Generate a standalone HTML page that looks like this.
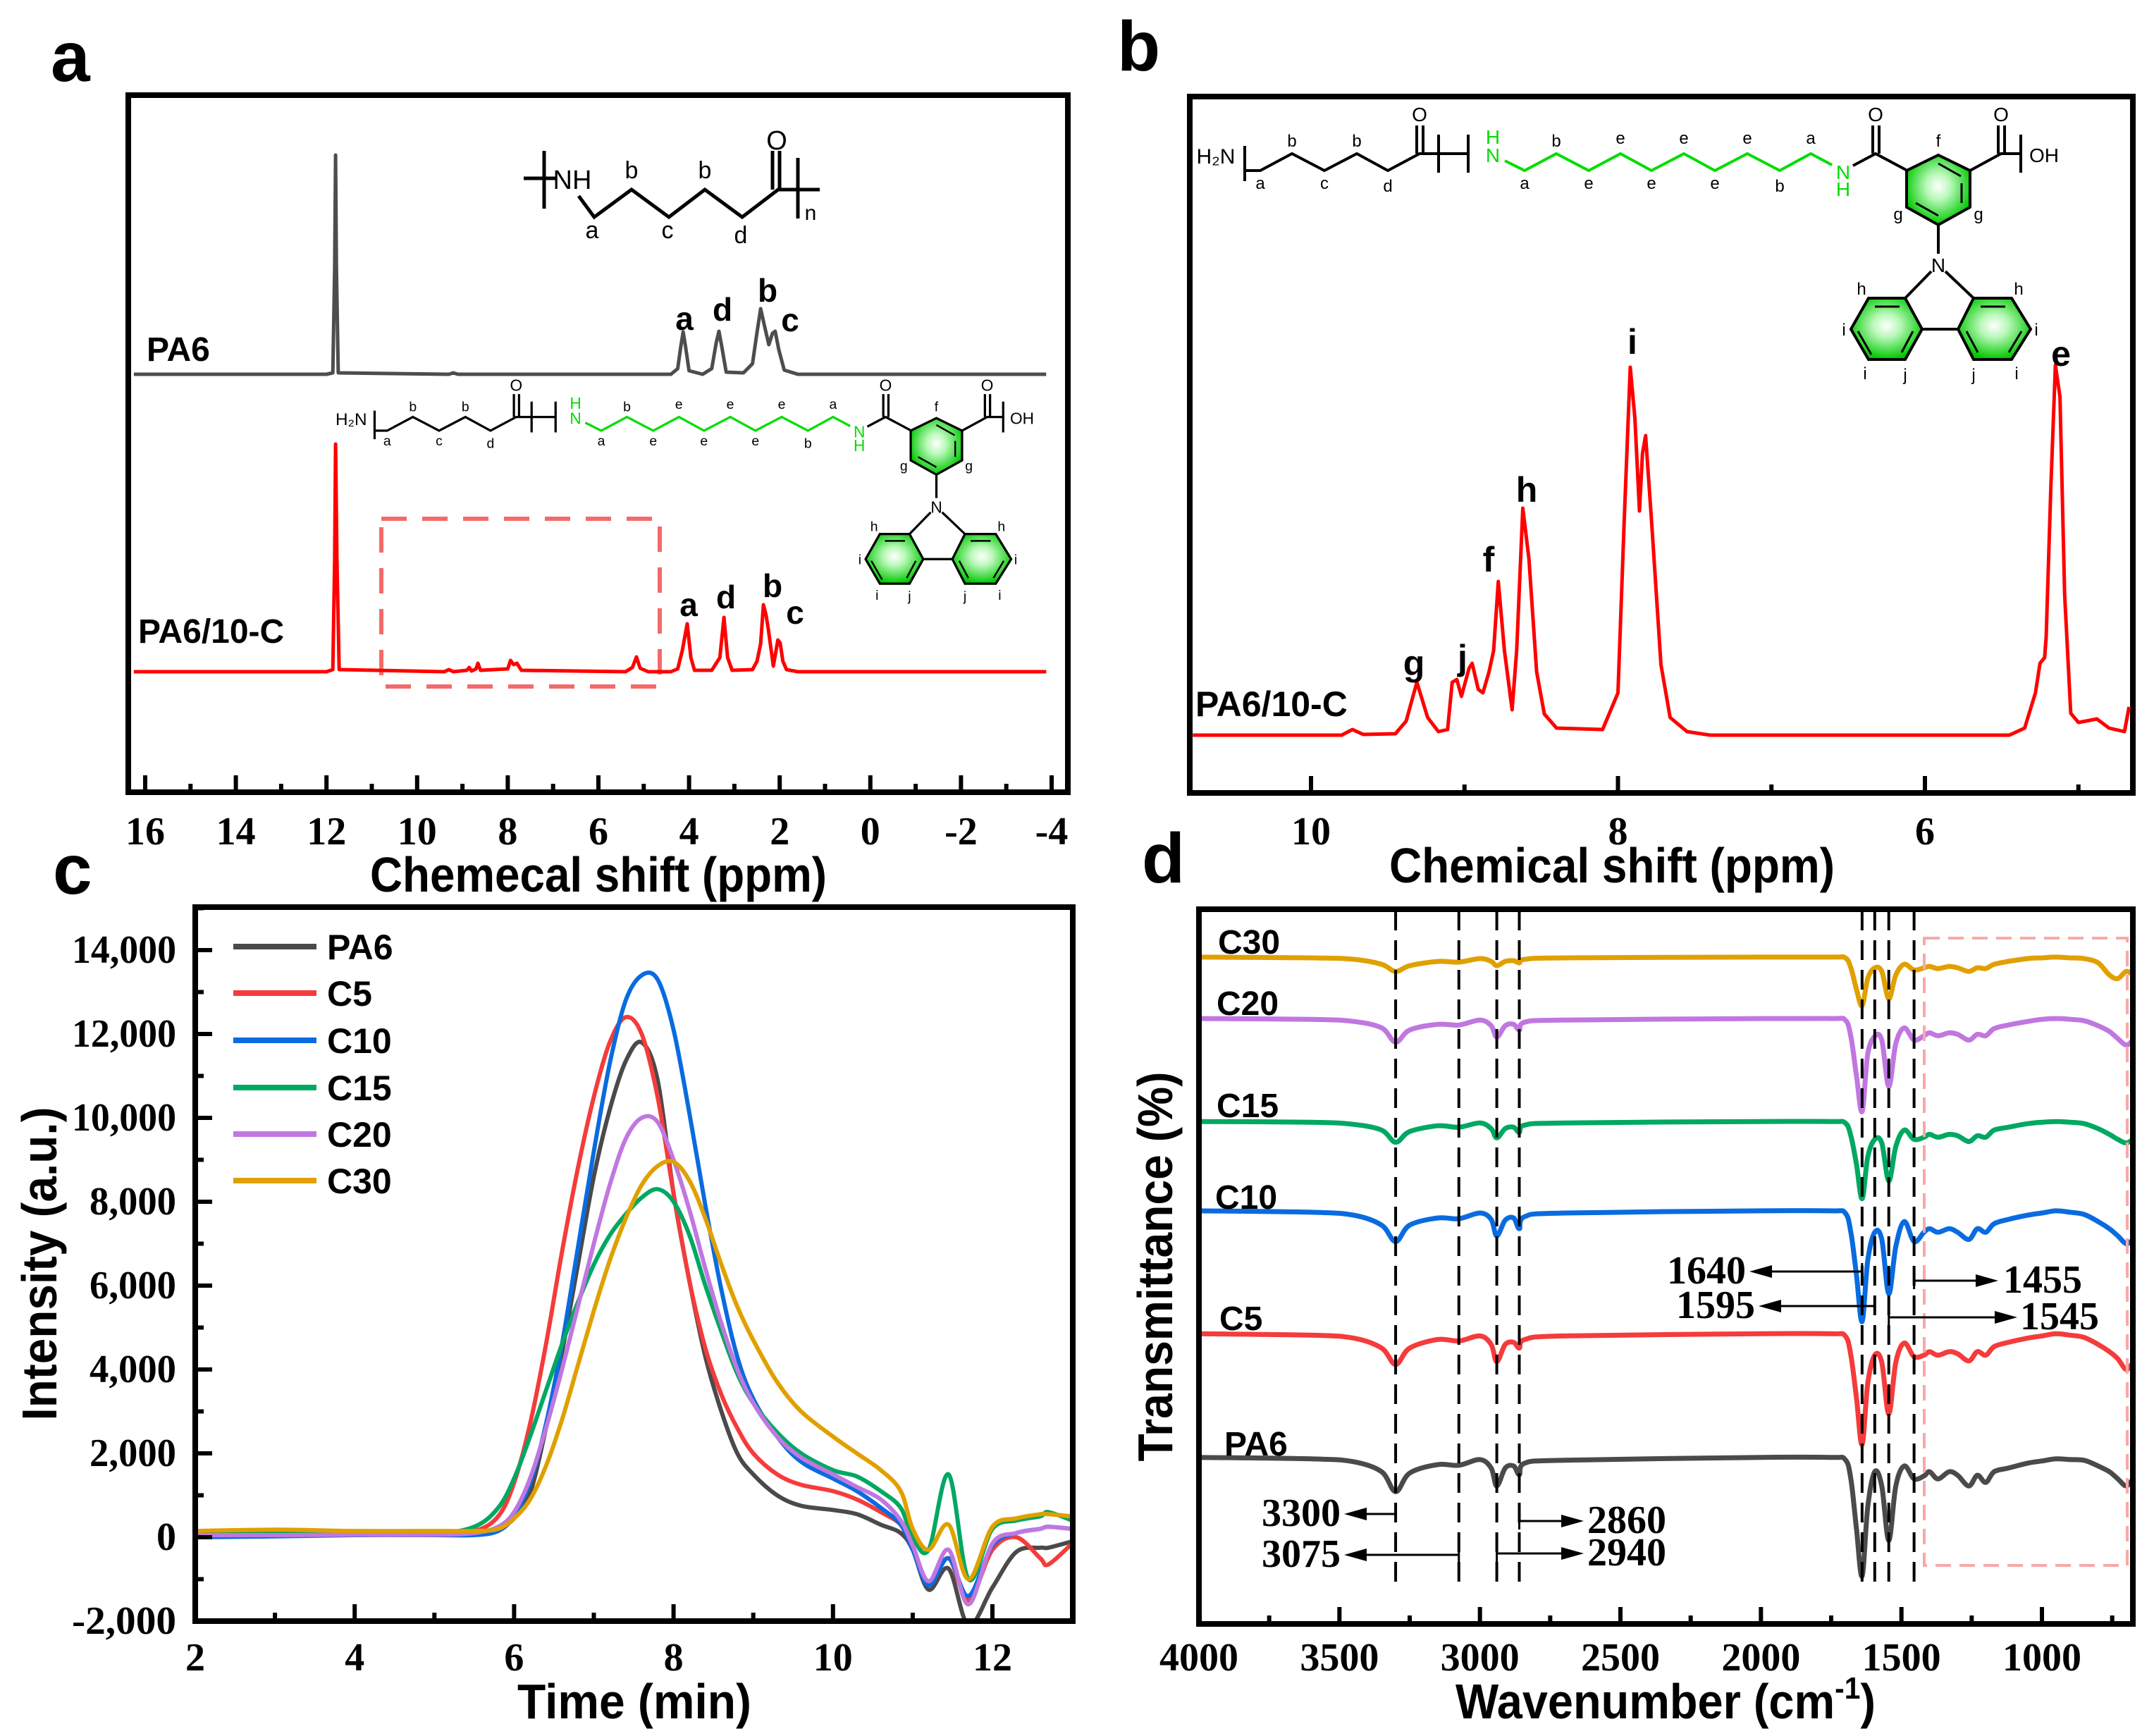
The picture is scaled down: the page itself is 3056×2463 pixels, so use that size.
<!DOCTYPE html>
<html><head><meta charset="utf-8"><style>
html,body{margin:0;padding:0;background:#fff}
svg{display:block}
text{font-family:"Liberation Sans",sans-serif}
.tick{font-family:"Liberation Serif",serif;font-weight:bold;font-size:56px}
.ttl{font-weight:bold;font-size:70px}
.lbl{font-weight:bold}
</style></head><body>
<svg id="fig" xmlns="http://www.w3.org/2000/svg" width="3056" height="2463" viewBox="0 0 3056 2463">
<defs>
<radialGradient id="ringg" cx="50%" cy="45%" r="55%"><stop offset="0" stop-color="#ffffff"/><stop offset="0.35" stop-color="#b8f8b8"/><stop offset="1" stop-color="#00c800"/></radialGradient>
<clipPath id="clipC"><rect x="277" y="1287" width="1245" height="1013"/></clipPath>
<clipPath id="clipB"><rect x="1688" y="135" width="1338" height="990"/></clipPath>
</defs>
<rect x="0" y="0" width="3056" height="2463" fill="#fff"/>
<text x="72" y="115" font-size="100" font-weight="bold">a</text>
<text x="1585" y="100" font-size="100" font-weight="bold">b</text>
<text x="75" y="1268" font-size="100" font-weight="bold">c</text>
<text x="1620" y="1252" font-size="100" font-weight="bold">d</text>
<text x="849" y="1265" class="ttl" text-anchor="middle" textLength="648" lengthAdjust="spacingAndGlyphs">Chemecal shift (ppm)</text>
<text x="2287" y="1252" class="ttl" text-anchor="middle" textLength="632" lengthAdjust="spacingAndGlyphs">Chemical shift (ppm)</text>
<text x="900" y="2438" class="ttl" text-anchor="middle" textLength="332" lengthAdjust="spacingAndGlyphs">Time (min)</text>
<text x="2363" y="2438" class="ttl" text-anchor="middle" textLength="596" lengthAdjust="spacingAndGlyphs">Wavenumber (cm<tspan dy="-28" font-size="44">-1</tspan><tspan dy="28">)</tspan></text>
<text transform="translate(80,1793) rotate(-90)" class="ttl" text-anchor="middle" textLength="445" lengthAdjust="spacingAndGlyphs">Intensity (a.u.)</text>
<text transform="translate(1663,1797) rotate(-90)" class="ttl" text-anchor="middle" textLength="553" lengthAdjust="spacingAndGlyphs">Transmittance (%)</text>
</svg>
<script>
const ppmA_PA6 = [16.25,12.0,11.86,11.82,11.8,11.78,11.74,9.3,9.2,9.1,4.4,4.25,4.18,4.13,4.08,4.0,3.7,3.5,3.4,3.34,3.28,3.18,2.8,2.6,2.5,2.42,2.34,2.24,2.16,2.1,2.02,1.9,1.6,-3.88];
const intA_PA6 = [0,0,2,150,311,150,2,0,2,0,0,8,40,60,40,5,0,8,45,61,40,3,2,15,60,93,70,42,58,61,35,6,0,0];
const ppmA_PA610C = [16.25,12.0,11.86,11.82,11.8,11.77,11.72,9.4,9.3,9.2,8.9,8.85,8.8,8.7,8.66,8.6,8.0,7.94,7.87,7.8,7.7,5.4,5.25,5.16,5.08,4.9,4.4,4.25,4.15,4.04,3.96,3.88,3.5,3.4,3.32,3.23,3.15,3.05,2.6,2.5,2.42,2.36,2.3,2.25,2.14,2.04,1.99,1.93,1.85,1.6,-3.88];
const intA_PA610C = [0,0,3,160,323,160,3,0,3,0,2,6,1,4,12,2,4,16,10,12,2,0,6,21,5,0,0,4,30,68,20,2,2,12,20,77,20,2,3,15,40,95,80,60,8,45,41,15,3,0,0];
const ppmB = [10.77,9.8,9.73,9.66,9.45,9.38,9.31,9.24,9.17,9.11,9.08,9.05,9.02,8.97,8.95,8.91,8.88,8.84,8.81,8.78,8.74,8.69,8.66,8.62,8.58,8.53,8.48,8.4,8.1,8.0,7.96,7.92,7.89,7.86,7.84,7.82,7.78,7.72,7.66,7.55,7.4,5.45,5.35,5.28,5.25,5.22,5.21,5.18,5.15,5.12,5.09,5.05,5.0,4.95,4.88,4.8,4.7,4.67];
const intB = [0,0,8,1,2,20,75,25,5,8,75,79,55,95,102,65,60,90,120,218,120,36,120,322,250,90,30,10,8,60,300,522,450,318,400,425,300,100,25,5,0,0,10,60,102,110,139,350,525,480,200,31,18,20,23,10,5,40];
const timeC = [2,3,4,5,5.5,5.8,6,6.2,6.4,6.6,6.8,7,7.2,7.4,7.6,7.8,8,8.2,8.4,8.6,8.8,9,9.3,9.6,10,10.3,10.6,10.85,11,11.2,11.45,11.7,12,12.3,12.6,12.7,13];
const gpcPA6 = [100,100,100,100,120,220,450,1050,2600,4400,6500,8600,10200,11350,11800,10900,8200,6100,4300,3000,2000,1500,1000,750,650,550,300,100,-300,-1250,-750,-2100,-1200,-350,-250,-250,-100];
const gpcC5 = [100,120,120,120,150,500,1300,2700,4600,6800,8800,10500,11800,12400,12000,10500,8200,6100,4500,3400,2600,2000,1500,1250,1100,900,600,300,-200,-1100,-500,-1500,-300,0,-500,-650,-150];
const gpcC10 = [0,20,50,50,50,150,500,1300,2700,4600,6900,9200,11300,12800,13400,13300,12100,10100,7900,5900,4300,3300,2400,1800,1400,1100,700,300,-300,-1150,-500,-1400,-200,100,200,250,200];
const gpcC15 = [100,100,100,100,250,700,1400,2400,3500,4600,5600,6500,7200,7700,8100,8300,8000,7200,6000,4900,3900,3200,2500,2000,1600,1450,1100,700,0,-300,1500,-1000,200,400,500,600,400];
const gpcC20 = [50,50,60,60,100,250,600,1400,2600,4000,5500,7000,8400,9500,10000,9900,9000,7800,6400,5100,4000,3200,2400,1900,1500,1200,900,400,-200,-1050,-300,-1600,-150,100,200,250,200];
const gpcC30 = [150,180,150,150,150,200,450,900,1700,2800,4100,5400,6600,7600,8400,8850,8950,8500,7600,6500,5500,4700,3700,3000,2400,2000,1600,1100,200,-300,300,-1000,250,450,550,550,500];
const yTicksC = [-2000,0,2000,4000,6000,8000,10000,12000,14000];
const yTickLabelsC = ["-2,000","0","2,000","4,000","6,000","8,000","10,000","12,000","14,000"];
const xTicksC = [2,4,6,8,10,12];
const waveD = [4000,3600,3450,3350,3300,3250,3150,3075,3000,2960,2940,2910,2880,2860,2840,2700,2000,1750,1700,1680,1660,1640,1620,1595,1570,1545,1520,1490,1455,1420,1400,1370,1330,1300,1260,1230,1200,1170,1120,1050,1000,950,900,850,800,760,730,700,676];
const depPA6 = [0,0.2,0.6,2,4.8,2.2,1,1.1,0.3,1.5,4,1.5,1.2,2.4,0.8,0.4,0,0,0.3,3,10,16.6,7,2,4,11.6,4,1.2,3,2.6,2,3,2,2.5,4,2.5,3.5,2,1.5,0.8,0.5,0.2,0.3,0.4,1.2,2,3,4,3];
const depC5 = [0,0.2,0.6,2,4.3,2,0.8,1,0.3,1.5,3.9,1.5,1.2,2,0.8,0.3,0,0,0.3,3,9,15.5,7,3,4,11.2,4,1.3,3.2,3,2.5,3,2.5,2.8,3.8,2.5,3,1.8,1.2,0.6,0.3,0,0.2,0.5,1.5,2.5,3.5,5,4];
const depC10 = [0,0.2,0.6,2,4.3,2,1,1.1,0.3,1.2,3.5,1.3,1,2.5,0.8,0.3,0,0,0.3,3,9,15.5,7,3,4,11.6,5,1.5,4.3,3,2.5,3,2.5,3,4,2.5,3,1.8,1.2,0.6,0.3,0,0.2,0.5,1.5,2.5,3.5,4.6,4];
const depC15 = [0,0.1,0.4,1.2,2.9,1.4,0.6,0.8,0.2,1,2.3,1,0.8,1.5,0.5,0.2,0,0,0.2,2,6,10.8,5,2.5,3,8.3,3.5,1.2,2.5,2.2,1.8,2.2,1.8,2,2.8,2,2.2,1.2,0.8,0.3,0.1,0,0.1,0.3,1,1.8,2.5,3,2.5];
const depC20 = [0,0.1,0.4,1.3,3.3,1.6,0.8,0.9,0.2,1,2.6,1,0.8,1.6,0.5,0.2,0,0,0.2,2.5,8,13,5,2.5,3,9.5,3.5,1.3,3,2.4,2,2.4,2,2.2,3,2.2,2.4,1.4,0.9,0.4,0.1,0,0.1,0.3,1,1.8,2.8,3.7,3];
const depC30 = [0,0.1,0.3,1,2,1.2,0.6,0.7,0.2,0.6,1.2,0.6,0.5,0.8,0.3,0.1,0,0,0.1,1.5,4.5,6.8,3,1.5,2,5.8,2.5,1,1.8,1.5,1.3,1.6,1.3,1.5,2,1.5,1.6,1,0.6,0.2,0.1,0,0.1,0.2,0.8,2.5,3,2,2.5];
const baseD = [23.3,40.6,57.8,70.3,84.7,93.3];
const markD = [3300,3075,2940,2860,1640,1595,1545,1455];
const xTicksD = [4000,3500,3000,2500,2000,1500,1000];

const svg = document.getElementById('fig');
const NS = 'http://www.w3.org/2000/svg';
function mk(tag, attrs, parent){
  const e = document.createElementNS(NS, tag);
  for (const k in attrs) e.setAttribute(k, attrs[k]);
  (parent || svg).appendChild(e);
  return e;
}
function lin(d0,d1,r0,r1){ return v => r0 + (v-d0)/(d1-d0)*(r1-r0); }
function poly(pts){ return 'M' + pts.map(p => p[0].toFixed(1)+','+p[1].toFixed(1)).join('L'); }
function smooth(pts){
  let d = 'M'+pts[0][0].toFixed(1)+','+pts[0][1].toFixed(1);
  for (let i=0;i<pts.length-1;i++){
    const p0=pts[Math.max(0,i-1)], p1=pts[i], p2=pts[i+1], p3=pts[Math.min(pts.length-1,i+2)];
    const c1=[p1[0]+(p2[0]-p0[0])/6, p1[1]+(p2[1]-p0[1])/6];
    const c2=[p2[0]-(p3[0]-p1[0])/6, p2[1]-(p3[1]-p1[1])/6];
    d += 'C'+c1[0].toFixed(1)+','+c1[1].toFixed(1)+' '+c2[0].toFixed(1)+','+c2[1].toFixed(1)+' '+p2[0].toFixed(1)+','+p2[1].toFixed(1);
  }
  return d;
}
function txt(x,y,s,attrs,parent){
  const t = mk('text', Object.assign({x:x,y:y}, attrs||{}), parent);
  t.textContent = s;
  return t;
}

// PANEL A
const xA = lin(16,-4,206,1492);
const gA = mk('g', {});


let e;
e = mk('rect', {x:182,y:135,width:1333,height:989,fill:'none',stroke:'#000','stroke-width':8}, gA);


for (let v=16; v>=-4; v--){
  const major = (v%2===0);
  e = mk('line', {x1:xA(v),x2:xA(v),y1:1124,y2:major?1100:1112,stroke:'#000','stroke-width':6}, gA);
  
  
  if (major){
    e = txt(xA(v),1198,String(v),{'class':'tick','text-anchor':'middle'},gA);
    
    
  }
}
e = mk('rect', {x:541,y:736,width:395,height:238,fill:'none',stroke:'#f46a6a','stroke-width':6,'stroke-dasharray':'36 22'}, gA);


e = mk('path', {d:poly(ppmA_PA6.map((p,i)=>[xA(p),531-intA_PA6[i]])),fill:'none',stroke:'#4d4d4d','stroke-width':5,'stroke-linejoin':'round'}, gA);


e = mk('path', {d:poly(ppmA_PA610C.map((p,i)=>[xA(p),953-intA_PA610C[i]])),fill:'none',stroke:'#ff0000','stroke-width':5,'stroke-linejoin':'round'}, gA);


e = txt(208,512,'PA6',{'class':'lbl','font-size':48},gA);


e = txt(196,912,'PA6/10-C',{'class':'lbl','font-size':48},gA);


[['a',971,468],['d',1025,455],['b',1089,428],['c',1121,470],['a',977,874],['d',1030,863],['b',1096,847],['c',1128,885]].forEach(a=>{
  e = txt(a[1],a[2],a[0],{'class':'lbl','font-size':46,'text-anchor':'middle'},gA);
  
  
});
const gS1 = mk('g', {stroke:'#000','stroke-width':5,fill:'none'}, gA);


mk('path',{d:'M772,214 L772,296 M743,253 L790,253 M821,278 L843,308 L896,269 L949,308 L1000,269 L1053,308 L1104,269 L1163,269 M1096,269 L1096,214 M1106,269 L1106,214 M1132,224 L1132,310'},gS1);
[['NH',812,268,38],['O',1102,212,38],['b',896,253,34],['b',1000,253,34],['a',840,338,34],['c',947,338,34],['d',1051,345,34],['n',1150,312,30]].forEach(a=>{
  e = txt(a[1],a[2],a[0],{'font-size':a[3],'text-anchor':'middle',fill:'#000',stroke:'none'},gS1);
  
  
});

function buildStructure(parent){
  const K='#000', G='#00dd00';
  mk('path',{d:'M1766,207 L1766,257 M1768,242 L1788,242 L1833,218 L1879,242 L1925,218 L1969,242 L2014,218 L2083,218 M2010,218 L2010,178 M2019,218 L2019,178 M2041,191 L2041,245 M2083,191 L2083,245',stroke:K,'stroke-width':4,fill:'none'},parent);
  mk('path',{d:'M2135,228 L2163,242 L2208,218 L2254,242 L2299,218 L2343,242 L2389,218 L2433,242 L2479,218 L2525,242 L2569,218 L2599,234',stroke:G,'stroke-width':4,fill:'none'},parent);
  mk('path',{d:'M2629,235 L2661,218 L2706,242 M2657,218 L2657,178 M2666,218 L2666,178 M2795,242 L2839,218 L2867,218 M2835,218 L2835,178 M2844,218 L2844,178 M2867,191 L2867,245 M2750,319 L2750,360 M2740,385 L2703,423 M2760,385 L2800,423 M2727,467 L2778,467',stroke:K,'stroke-width':4,fill:'none'},parent);
  mk('path',{d:'M2750,220 L2795,242 L2795,294 L2750,319 L2705,294 L2705,242 Z',fill:'url(#ringg)',stroke:K,'stroke-width':4},parent);
  mk('path',{d:'M2703,423 L2727,467 L2703,510 L2651,510 L2626,467 L2651,423 Z',fill:'url(#ringg)',stroke:K,'stroke-width':4},parent);
  mk('path',{d:'M2800,423 L2854,423 L2881,467 L2854,510 L2800,510 L2778,467 Z',fill:'url(#ringg)',stroke:K,'stroke-width':4},parent);
  mk('path',{d:'M2750,232 L2782,250 M2783,260 L2783,288 M2718,288 L2750,306 M2660,435 L2695,435 M2636,470 L2655,503 M2714,470 L2698,500 M2810,435 L2845,435 M2868,470 L2850,500 M2790,470 L2806,500',stroke:K,'stroke-width':3,fill:'none'},parent);
  const labs = [['H\u2082N',1725,232,30,K],['O',2014,172,28,K],['b',1833,208,24,K],['b',1925,208,24,K],['a',1788,268,24,K],['c',1879,268,24,K],['d',1969,272,24,K],
    ['H',2118,204,28,G],['N',2118,230,28,G],['a',2163,268,24,K],['b',2208,208,24,K],['e',2299,204,24,K],['e',2389,204,24,K],['e',2479,204,24,K],['a',2569,204,24,K],
    ['e',2254,268,24,K],['e',2343,268,24,K],['e',2433,268,24,K],['b',2525,272,24,K],['N',2615,254,28,G],['H',2615,278,28,G],['O',2661,172,28,K],['f',2750,208,24,K],
    ['g',2693,312,24,K],['g',2807,312,24,K],['O',2839,172,28,K],['OH',2900,230,28,K],['N',2750,386,28,K],['h',2641,418,24,K],['h',2864,418,24,K],['i',2616,476,24,K],
    ['i',2889,476,24,K],['i',2646,538,24,K],['j',2703,540,24,K],['j',2800,540,24,K],['i',2861,538,24,K]];
  labs.forEach(a=>{
    const t = txt(a[1],a[2],a[0],{'font-size':a[3],'text-anchor':'middle',fill:a[4]},parent);
    
    
  });
}
const gS2 = mk('g', {transform:'translate(-899,415) scale(0.81)'}, gA);


buildStructure(gS2);

// PANEL B
const xB = lin(10,6,1860,2731);
const gB = mk('g', {});


e = mk('rect', {x:1688,y:137,width:1338,height:988,fill:'none',stroke:'#000','stroke-width':8}, gB);


[10,9,8,7,6,5].forEach(v=>{
  const major = (v%2===0);
  e = mk('line', {x1:xB(v),x2:xB(v),y1:1125,y2:major?1101:1113,stroke:'#000','stroke-width':6}, gB);
  
  
  if (major){
    e = txt(xB(v),1198,String(v),{'class':'tick','text-anchor':'middle'},gB);
    
    
  }
});
e = mk('path', {d:poly(ppmB.map((p,i)=>[xB(p),1043-intB[i]])),fill:'none',stroke:'#ff0000','stroke-width':5,'stroke-linejoin':'round','clip-path':'url(#clipB)'}, gB);


e = txt(1696,1016,'PA6/10-C',{'class':'lbl','font-size':50},gB);


[['g',2006,958],['j',2075,950],['f',2112,811],['h',2166,712],['i',2316,502],['e',2924,519]].forEach(a=>{
  e = txt(a[1],a[2],a[0],{'class':'lbl','font-size':50,'text-anchor':'middle'},gB);
  
  
});
const gS3 = mk('g', {}, gB);


buildStructure(gS3);

// PANEL C
const xC = lin(2,12,277,1408);
const yC = lin(-2000,14000,2300,1348);
const gC = mk('g', {});


const seriesC = [['PA6',gpcPA6,'#4a4a4a'],['C5',gpcC5,'#f53b3b'],['C10',gpcC10,'#0a6be0'],['C15',gpcC15,'#00a862'],['C20',gpcC20,'#c077e0'],['C30',gpcC30,'#e0a000']];
seriesC.forEach(s=>{
  e = mk('path', {d:smooth(timeC.map((t,i)=>[xC(t),yC(s[1][i])])),fill:'none',stroke:s[2],'stroke-width':6,'clip-path':'url(#clipC)'}, gC);
  
  
});
e = mk('rect', {x:277,y:1287,width:1245,height:1013,fill:'none',stroke:'#000','stroke-width':8}, gC);


for (let v=2; v<=13; v++){
  const major = (v%2===0);
  e = mk('line', {x1:xC(v),x2:xC(v),y1:2300,y2:major?2276:2288,stroke:'#000','stroke-width':6}, gC);
  
  
}
xTicksC.forEach(v=>{
  e = txt(xC(v),2370,String(v),{'class':'tick','text-anchor':'middle'},gC);
  
  
});
for (let v=-2000; v<=15000; v+=1000){
  const major = (v%2000===0);
  e = mk('line', {x1:277,x2:major?301:289,y1:yC(v),y2:yC(v),stroke:'#000','stroke-width':6}, gC);
  
  
}
yTicksC.forEach((v,i)=>{
  const s = yTickLabelsC[i];
  const at = {'class':'tick','text-anchor':'end','font-size':52};
  if (s.length > 1) { at.textLength = Math.round(148 * s.length / 6); at.lengthAdjust = 'spacingAndGlyphs'; }
  e = txt(250,yC(v)+18,s,at,gC);
  
  
});
const legY = [1343,1409,1476,1543,1609,1675];
seriesC.forEach((s,i)=>{
  e = mk('line', {x1:331,x2:449,y1:legY[i],y2:legY[i],stroke:s[2],'stroke-width':8}, gC);
  
  
  e = txt(464,legY[i]+18,s[0],{'class':'lbl','font-size':50},gC);
  
  
});

// PANEL D
const xD = lin(4000,1000,1701,2897);
const yD = lin(0,100,2304,1290);
const gD = mk('g', {});


const seriesD = [['PA6',depPA6,'#4a4a4a',2047,1737],['C5',depC5,'#f53b3b',1869,1730],['C10',depC10,'#0a6be0',1697,1724],['C15',depC15,'#00a862',1567,1726],['C20',depC20,'#c077e0',1422,1726],['C30',depC30,'#e0a000',1335,1728]];
seriesD.forEach((s,k)=>{
  e = mk('path', {d:smooth(waveD.map((w,i)=>[xD(w),yD(baseD[k]-s[1][i])])),fill:'none',stroke:s[2],'stroke-width':7}, gD);
  
  
  e = txt(s[4],s[3]+18,s[0],{'class':'lbl','font-size':48},gD);
  
  
});
markD.forEach(w=>{
  e = mk('line', {x1:xD(w),x2:xD(w),y1:1292,y2:2245,stroke:'#000','stroke-width':4,'stroke-dasharray':'28 14'}, gD);
  
  
});
e = mk('rect', {x:2730,y:1331,width:288,height:890,fill:'none',stroke:'#f8a8a8','stroke-width':4,'stroke-dasharray':'22 12'}, gD);


e = mk('rect', {x:1701,y:1290,width:1325,height:1014,fill:'none',stroke:'#000','stroke-width':8}, gD);


for (let w=4000; w>=700; w-=250){
  const major = (w%500===0);
  e = mk('line', {x1:xD(w),x2:xD(w),y1:2304,y2:major?2280:2292,stroke:'#000','stroke-width':6}, gD);
  
  
}
xTicksD.forEach(w=>{
  e = txt(xD(w),2370,String(w),{'class':'tick','text-anchor':'middle'},gD);
  
  
});
const annD = [[3300,1907,2148,'3300',1902,'end'],[3075,1907,2206,'3075',1902,'end'],[2860,2247,2158,'2860',2252,'start'],[2940,2247,2204,'2940',2252,'start'],
              [1640,2482,1804,'1640',2477,'end'],[1595,2495,1853,'1595',2490,'end'],[1455,2835,1817,'1455',2842,'start'],[1545,2862,1869,'1545',2866,'start']];
annD.forEach(a=>{
  const x0 = xD(a[0]), x1 = a[1], y = a[2], dir = Math.sign(x1-x0);
  e = mk('line', {x1:x0,x2:x1-dir*28,y1:y,y2:y,stroke:'#000','stroke-width':3}, gD);
  
  
  e = mk('path', {d:'M'+x1+','+y+' L'+(x1-dir*32)+','+(y-9)+' L'+(x1-dir*32)+','+(y+9)+' Z',fill:'#000'}, gD);
  
  
  e = mk('line', {x1:x0,x2:x0,y1:y-12,y2:y+12,stroke:'#000','stroke-width':3}, gD);
  
  
  e = txt(a[4],y+17,a[3],{'class':'tick','font-size':48,'text-anchor':a[5]},gD);
  
  
});
</script>
</body></html>
